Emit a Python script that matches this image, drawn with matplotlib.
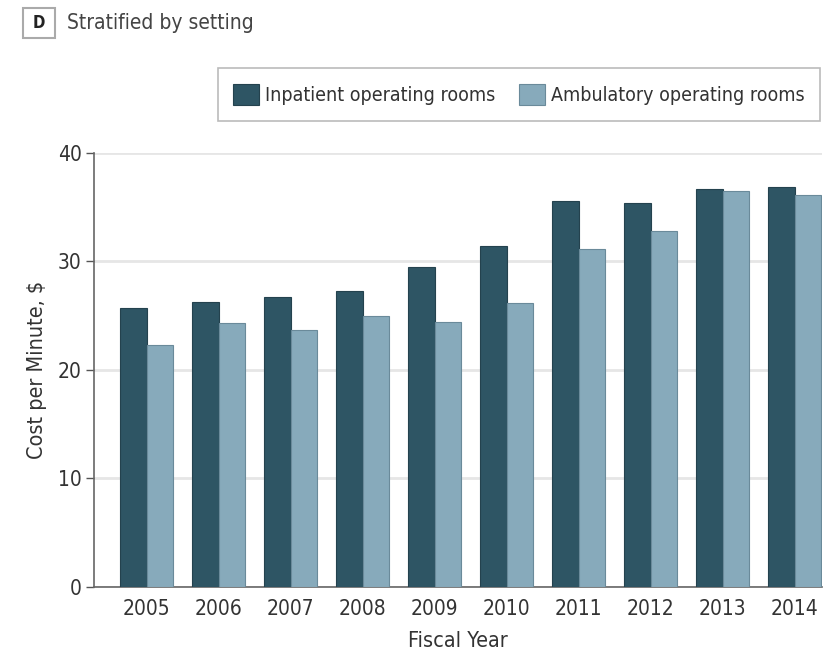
import numpy as np
import matplotlib
matplotlib.use("Agg")
from matplotlib import pyplot as plt
from matplotlib.patches import Rectangle

anios = ['2005', '2006', '2007', '2008', '2009', '2010', '2011', '2012', '2013', '2014']
inpatient = [25.7, 26.3, 26.7, 27.25, 29.5, 31.4, 35.6, 35.35, 36.7, 36.9]
ambulatory = [22.3, 24.3, 23.7, 25.0, 24.45, 26.2, 31.15, 32.8, 36.5, 36.15]

plt.rcParams['font.family'] = ['DejaVu Sans']
plt.rcParams['font.stretch'] = 'condensed'

fig = plt.figure(figsize=(8.26, 6.56), dpi=100)
ax = fig.add_axes([0.1138, 0.1052, 0.881, 0.6616])

x = np.arange(len(anios))
w = 0.372
ax.bar(x - w/2, inpatient, w, color='#2e5564', edgecolor='#24424e', linewidth=0.8,
       label='Inpatient operating rooms', zorder=3)
ax.bar(x + w/2, ambulatory, w, color='#87aabb', edgecolor='#6a8a9a', linewidth=0.8,
       label='Ambulatory operating rooms', zorder=3)

ax.set_ylim(0, 40)
ax.set_xlim(-0.73, 9.375)
ax.set_yticks([0, 10, 20, 30, 40])
ax.set_xticks(x)
ax.set_xticklabels(anios)
ax.yaxis.grid(True, color='#e6e6e6', linewidth=2, zorder=0)
ax.tick_params(axis='y', length=6, width=1, color='#555555', labelsize=15, labelcolor='#333333', pad=3)
ax.tick_params(axis='x', length=0, labelsize=15, labelcolor='#333333', pad=9)
for s in ['top', 'right']:
    ax.spines[s].set_visible(False)
ax.spines['left'].set_color('#666666')
ax.spines['bottom'].set_color('#666666')
ax.spines['left'].set_linewidth(1.2)
ax.spines['bottom'].set_linewidth(1.2)

ax.set_ylabel('Cost per Minute, $', fontsize=15.5, color='#333333', labelpad=8)
ax.set_xlabel('Fiscal Year', fontsize=15.5, color='#333333', labelpad=8)

leg = fig.legend(loc='upper right', bbox_to_anchor=(820/826, 1 - 68/656), ncol=2,
                 fontsize=14, frameon=True, fancybox=False, edgecolor='#aaaaaa',
                 handlelength=1.35, handleheight=1.35, handletextpad=0.3,
                 columnspacing=1.2, borderpad=0.8, borderaxespad=0)
leg.get_frame().set_linewidth(1.2)
for t in leg.get_texts():
    t.set_color('#333333')

# etiqueta del panel
fig.patches.append(Rectangle((23/826, 1 - 38/656), 32/826, 30/656, transform=fig.transFigure,
                             facecolor='white', edgecolor='#aaaaaa', linewidth=1.5))
fig.text(39/826, 1 - 23/656, 'D', fontsize=12, fontweight='bold', ha='center', va='center',
         color='#222222')
fig.text(67/826, 1 - 23/656, 'Stratified by setting', fontsize=15, ha='left', va='center',
         color='#444444')

fig.savefig('out.png', dpi=100)
